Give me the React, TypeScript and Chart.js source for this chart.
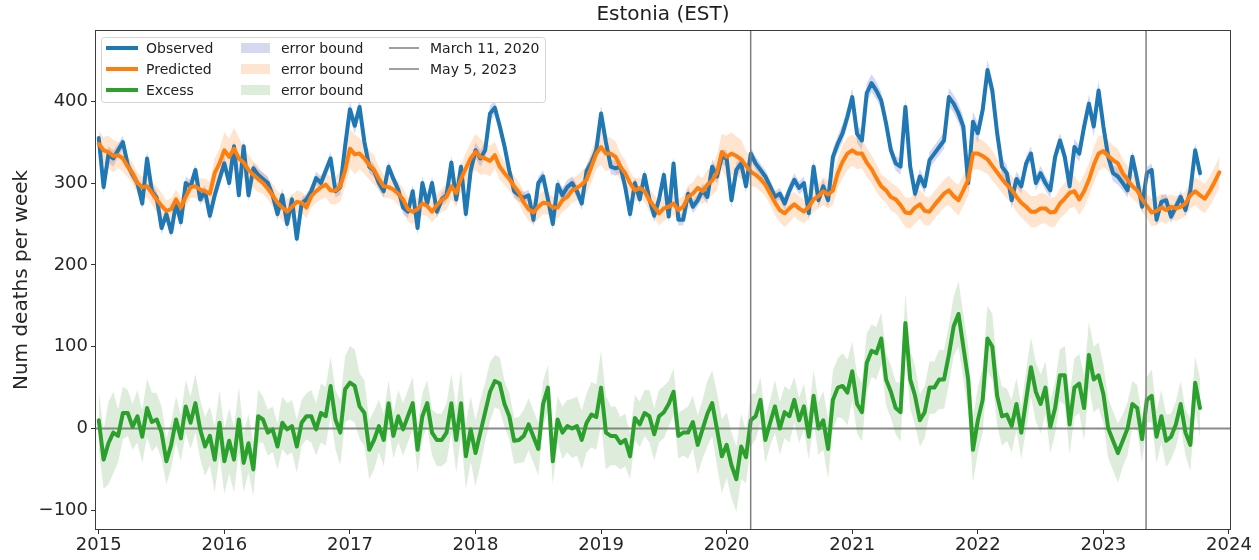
import React, { useEffect, useRef } from "react";
import { Chart, registerables } from "chart.js";

Chart.register(...registerables);

const FONT = '"DejaVu Sans", "Liberation Sans", sans-serif';

// Weekly series sampled every two weeks (26 samples per year), starting at the first week of 2015
const FIRST_WEEK = 2015.0;
const SAMPLE_STEP = 1 / 26;

const observed = [
  355, 295, 335, 330, 340, 350, 322, 310, 300, 275, 330, 290, 282, 245, 262, 240, 275, 252, 300, 295, 316, 280, 290, 260, 285, 305,
  324, 300, 345, 285, 345, 285, 318, 310, 305, 300, 285, 262, 285, 250, 280, 232, 275, 280, 290, 306, 300, 315, 330, 290, 295, 345,
  390, 370, 393, 350, 320, 315, 300, 290, 320, 305, 292, 270, 265, 290, 245, 300, 275, 300, 265, 280, 285, 325, 280, 320, 262, 315,
  340, 330, 340, 385, 392, 370, 345, 315, 290, 285, 282, 285, 255, 300, 308, 280, 250, 298, 285, 295, 300, 290, 275, 315, 325, 340,
  385, 350, 320, 318, 320, 295, 262, 300, 280, 310, 280, 260, 280, 310, 259, 324, 255, 255, 287, 271, 279, 291, 283, 320, 308, 332,
  330, 279, 316, 324, 296, 336, 324, 316, 308, 296, 283, 287, 275, 291, 304, 294, 300, 263, 320, 279, 296, 279, 332, 348, 361, 381,
  405, 360, 352, 410, 422, 413, 401, 373, 340, 324, 320, 393, 320, 287, 308, 296, 328, 336, 344, 352, 405, 397, 385, 369, 300, 375,
  361, 389, 438, 413, 361, 320, 312, 279, 305, 296, 324, 336, 300, 312, 300, 291, 332, 352, 332, 296, 344, 336, 369, 397, 369, 413,
  369, 332, 312, 308, 300, 291, 332, 304, 271, 312, 316, 255, 277, 279, 259, 271, 283, 267, 291, 340, 312,
];

const predicted = [
  348, 340, 338, 333, 334, 330, 320, 312, 300, 295, 296, 288, 280, 272, 266, 268, 280, 270, 283, 295, 296, 292, 290, 287, 312, 324,
  340, 332, 342, 330, 325, 316, 310, 305, 300, 293, 285, 276, 270, 265, 271, 277, 276, 270, 284, 290, 295, 298, 291, 291, 296, 315,
  342, 335, 336, 330, 322, 316, 305, 296, 295, 292, 287, 280, 268, 265, 268, 275, 272, 265, 273, 279, 283, 296, 288, 305, 318, 330,
  338, 332, 330, 327, 334, 320, 312, 305, 296, 288, 276, 268, 264, 271, 276, 275, 270, 270, 279, 283, 291, 294, 298, 304, 320, 336,
  344, 336, 336, 332, 320, 312, 300, 291, 294, 290, 279, 271, 263, 269, 271, 275, 267, 271, 283, 287, 294, 290, 298, 303, 313, 338,
  332, 336, 333, 329, 321, 314, 310, 305, 298, 287, 276, 267, 263, 269, 274, 269, 265, 271, 280, 284, 290, 286, 291, 312, 326, 336,
  340, 336, 336, 325, 317, 306, 296, 291, 283, 280, 273, 264, 263, 270, 274, 266, 265, 273, 280, 287, 291, 284, 279, 291, 304, 336,
  336, 333, 329, 321, 313, 305, 298, 292, 283, 276, 271, 265, 265, 269, 269, 264, 265, 275, 281, 288, 290, 280, 290, 304, 322, 336,
  339, 333, 328, 324, 312, 304, 296, 291, 280, 272, 264, 266, 270, 267, 271, 269, 271, 275, 285, 290, 285, 281, 290, 301, 313,
];

const excess = [
  10, -38, -18, -5, -9, 19, 19, 2, 15, -10, 25, 8, 11, -5, -40, -20, 11, -12, 27, 7, 31, -1, -22, -9, -38, 7,
  -40, -15, -38, 11, -42, -18, -50, 15, 11, -5, -1, -22, 7, -1, 3, -22, 7, 15, 15, -1, 19, 15, 52, 11, -5, 48,
  56, 52, 27, 19, -26, -14, 3, -14, 31, -9, 15, -1, 15, 31, -26, 15, 31, -5, -14, -14, -5, 31, -14, 31, -34, -1,
  -30, -5, 20, 45, 58, 55, 30, 15, -15, -14, -9, 5, -10, -25, 30, 50, -40, 11, -5, 3, 0, 3, -14, 7, 17, 14,
  50, -5, -9, -9, -18, -14, -34, 13, 5, 19, 15, -7, 15, 20, 30, 45, -9, -5, -5, 8, -20, -1, 18, 31, -1, -34,
  -20, -45, -62, -22, -35, 10, 15, 35, -14, 7, 27, 0, 20, 15, 35, 10, 27, -10, 40, 0, 10, -25, 35, 50, 52, 44,
  70, 30, 20, 80, 95, 92, 110, 60, 45, 25, 20, 129, 60, 40, 10, 20, 50, 50, 60, 60, 90, 125, 140, 100, 60, -26,
  10, 35, 110, 100, 40, 15, 17, 3, 30, -5, 35, 75, 45, 30, 50, 2, 25, 65, 65, 5, 50, 55, 25, 90, 60, 65,
  42, 0, -15, -30, -15, 0, 30, 25, -13, 35, 40, -10, 15, -15, -10, 5, 30, -5, -20, 56, 25,
];

// Half-widths of the error bounds, one value per four weeks
const observedErr = [
  8, 10, 8, 7, 8, 9, 8, 7, 8, 8, 7, 8, 9,
  9, 8, 8, 7, 8, 8, 9, 8, 7, 8, 8, 8, 9,
  10, 9, 8, 8, 7, 8, 8, 9, 8, 8, 8, 8, 9,
  10, 10, 8, 8, 8, 7, 8, 8, 8, 9, 8, 8, 9,
  10, 9, 8, 8, 7, 8, 8, 8, 7, 8, 8, 9, 9,
  10, 9, 8, 8, 8, 7, 8, 8, 8, 9, 9, 10, 11,
  11, 12, 11, 10, 9, 10, 9, 9, 10, 10, 11, 12, 12,
  12, 13, 11, 10, 9, 9, 9, 9, 9, 10, 10, 11, 12,
  11, 10, 9, 8, 8, 8, 8, 8, 8, 9, 9, 8, 8,
];

const predictedErr = [
  16, 20, 16, 13, 13, 14, 16, 13, 12, 13, 14, 15, 18,
  22, 26, 19, 16, 13, 14, 16, 14, 13, 14, 15, 17, 19,
  24, 19, 18, 14, 13, 14, 15, 14, 13, 14, 16, 17, 19,
  22, 19, 16, 14, 13, 14, 15, 14, 13, 14, 15, 17, 19,
  22, 19, 16, 14, 13, 14, 15, 14, 13, 14, 16, 18, 22,
  26, 24, 18, 15, 14, 15, 17, 15, 14, 15, 17, 18, 20,
  19, 18, 17, 15, 17, 18, 19, 18, 17, 17, 18, 19, 20,
  19, 18, 17, 17, 18, 19, 19, 18, 18, 19, 19, 20, 22,
  19, 18, 17, 15, 15, 17, 17, 15, 15, 17, 18, 18, 19,
];

const excessErr = [
  36, 50, 32, 28, 32, 36, 32, 28, 28, 32, 36, 36, 40,
  40, 40, 36, 32, 28, 28, 32, 32, 28, 32, 36, 36, 40,
  45, 40, 36, 32, 28, 32, 32, 28, 28, 32, 36, 40, 40,
  40, 36, 32, 28, 28, 32, 32, 28, 28, 32, 36, 36, 40,
  45, 36, 32, 28, 28, 32, 32, 28, 28, 32, 36, 40, 45,
  40, 40, 32, 28, 28, 32, 32, 28, 28, 32, 36, 36, 40,
  36, 36, 32, 32, 32, 36, 36, 32, 32, 36, 36, 40, 40,
  40, 40, 36, 32, 32, 36, 36, 32, 32, 36, 36, 40, 40,
  36, 36, 32, 28, 28, 32, 32, 28, 28, 32, 36, 36, 36,
];

const xTickYears = [2015, 2016, 2017, 2018, 2019, 2020, 2021, 2022, 2023, 2024];
const yTickValues = [-100, 0, 100, 200, 300, 400];
const eventLabels = ["March 11, 2020", "May 5, 2023"];
const eventYears = [2020 + 70 / 366, 2023 + 124 / 365];

const C_OBS = "#1f77b4";
const C_PRED = "#ff7f0e";
const C_EXC = "#2ca02c";
const B_OBS = "rgba(40,60,180,0.2)";
const B_PRED = "rgba(255,127,14,0.2)";
const B_EXC = "rgba(70,150,60,0.18)";
const C_EVENT = "#808080";

const xAt = (i: number) => FIRST_WEEK + i * SAMPLE_STEP;
const toPoints = (vals: number[]) => vals.map((v, i) => ({ x: xAt(i), y: v }));
const toBand = (vals: number[], err: number[], sign: number) =>
  vals.map((v, i) => ({ x: xAt(i), y: v + sign * err[i >> 1] }));

const bandSets = (label: string, vals: number[], err: number[], color: string, order: number) => [
  {
    label: label + " lower",
    data: toBand(vals, err, -1),
    borderWidth: 0,
    borderColor: "rgba(0,0,0,0)",
    pointRadius: 0,
    fill: false,
    order,
  },
  {
    label,
    data: toBand(vals, err, 1),
    borderWidth: 0,
    borderColor: "rgba(0,0,0,0)",
    backgroundColor: color,
    pointRadius: 0,
    fill: "-1",
    order,
  },
];

const lineSet = (label: string, vals: number[], color: string, order: number) => ({
  label,
  data: toPoints(vals),
  borderColor: color,
  backgroundColor: color,
  borderWidth: 4,
  pointRadius: 0,
  fill: false,
  tension: 0,
  borderJoinStyle: "round" as const,
  borderCapStyle: "round" as const,
  order,
});

const decorPlugin = {
  id: "decor",
  beforeDatasetsDraw(chart: any) {
    const { ctx, chartArea: a, scales } = chart;
    const y0 = scales.y.getPixelForValue(0);
    ctx.save();
    ctx.strokeStyle = "#8a8a8a";
    ctx.lineWidth = 2;
    ctx.beginPath();
    ctx.moveTo(a.left, y0);
    ctx.lineTo(a.right, y0);
    ctx.stroke();
    ctx.restore();
  },
  afterDatasetsDraw(chart: any) {
    const { ctx, chartArea: a, scales } = chart;
    ctx.save();
    ctx.strokeStyle = C_EVENT;
    ctx.lineWidth = 1.5;
    eventYears.forEach((yr) => {
      const px = scales.x.getPixelForValue(yr);
      ctx.beginPath();
      ctx.moveTo(px, a.top);
      ctx.lineTo(px, a.bottom);
      ctx.stroke();
    });
    ctx.strokeStyle = "#3c3c3c";
    ctx.lineWidth = 1;
    ctx.strokeRect(Math.round(a.left) + 0.5, Math.round(a.top) + 0.5, Math.round(a.width) - 1, Math.round(a.height) - 1);
    ctx.restore();
  },
  afterDraw(chart: any) {
    const { ctx, chartArea: a } = chart;
    ctx.save();
    const bx = a.left + 6;
    const by = a.top + 7;
    const bw = 444;
    const bh = 65;
    ctx.fillStyle = "rgba(255,255,255,0.85)";
    ctx.strokeStyle = "#d4d4d4";
    ctx.lineWidth = 1;
    ctx.beginPath();
    ctx.roundRect(bx + 0.5, by + 0.5, bw, bh, 3);
    ctx.fill();
    ctx.stroke();

    const rows = [by + 11, by + 32, by + 53];
    ctx.font = `14px ${FONT}`;
    ctx.textBaseline = "middle";
    ctx.textAlign = "left";
    const lineEntries = [
      { t: "Observed", c: C_OBS },
      { t: "Predicted", c: C_PRED },
      { t: "Excess", c: C_EXC },
    ];
    lineEntries.forEach((e, i) => {
      ctx.strokeStyle = e.c;
      ctx.lineWidth = 4;
      ctx.beginPath();
      ctx.moveTo(bx + 5, rows[i]);
      ctx.lineTo(bx + 37, rows[i]);
      ctx.stroke();
      ctx.fillStyle = "#222";
      ctx.fillText(e.t, bx + 45, rows[i] + 1);
    });
    [B_OBS, B_PRED, B_EXC].forEach((c, i) => {
      ctx.fillStyle = c;
      ctx.fillRect(bx + 140, rows[i] - 5, 29, 10);
      ctx.fillStyle = "#222";
      ctx.fillText("error bound", bx + 180, rows[i] + 1);
    });
    eventLabels.forEach((t, i) => {
      ctx.strokeStyle = C_EVENT;
      ctx.lineWidth = 1.5;
      ctx.beginPath();
      ctx.moveTo(bx + 288, rows[i]);
      ctx.lineTo(bx + 318, rows[i]);
      ctx.stroke();
      ctx.fillStyle = "#222";
      ctx.fillText(t, bx + 329, rows[i] + 1);
    });
    ctx.restore();
  },
};

export default function App() {
  const canvasRef = useRef<HTMLCanvasElement>(null);

  useEffect(() => {
    document.body.style.margin = "0";
    const canvas = canvasRef.current;
    if (!canvas) return;
    Chart.defaults.font.family = FONT;

    const tickGrid = {
      display: true,
      drawOnChartArea: false,
      drawTicks: true,
      tickLength: 4,
      tickColor: "#333",
      tickWidth: 1,
    };

    const chart = new Chart(canvas, {
      type: "line",
      data: {
        datasets: [
          ...bandSets("Observed error bound", observed, observedErr, B_OBS, 20),
          ...bandSets("Predicted error bound", predicted, predictedErr, B_PRED, 19),
          ...bandSets("Excess error bound", excess, excessErr, B_EXC, 18),
          lineSet("Observed", observed, C_OBS, 3),
          lineSet("Predicted", predicted, C_PRED, 2),
          lineSet("Excess", excess, C_EXC, 1),
        ] as any,
      },
      options: {
        responsive: false,
        maintainAspectRatio: false,
        animation: false,
        devicePixelRatio: 1,
        layout: { padding: { left: 0, right: 28, top: 0, bottom: 0 } },
        plugins: {
          legend: { display: false },
          tooltip: { enabled: false },
          title: {
            display: true,
            text: "Estonia (EST)",
            fullSize: false,
            color: "#1e1e1e",
            font: { family: FONT, size: 20, weight: "normal" },
            padding: { top: 3, bottom: 3 },
          },
        },
        scales: {
          x: {
            type: "linear",
            min: 2014.97,
            max: 2024.016,
            afterBuildTicks: (s: any) => {
              s.ticks = xTickYears.map((v) => ({ value: v }));
            },
            afterFit: (s: any) => {
              s.height = 30;
            },
            grid: tickGrid,
            border: { display: false },
            ticks: {
              font: { family: FONT, size: 18 },
              color: "#262626",
              padding: 1,
              maxRotation: 0,
              autoSkip: false,
              callback: (v: any) => String(v),
            },
          },
          y: {
            type: "linear",
            min: -124,
            max: 487,
            afterBuildTicks: (s: any) => {
              s.ticks = yTickValues.map((v) => ({ value: v }));
            },
            afterFit: (s: any) => {
              s.width = 95;
            },
            grid: tickGrid,
            border: { display: false },
            title: {
              display: true,
              text: "Num deaths per week",
              color: "#262626",
              font: { family: FONT, size: 20 },
              padding: { top: 10, bottom: 0 },
            },
            ticks: {
              font: { family: FONT, size: 18 },
              color: "#262626",
              padding: 3,
              callback: (v: any) => (Number(v) < 0 ? "\u2212" + Math.abs(Number(v)) : String(v)),
            },
          },
        },
      },
      plugins: [decorPlugin],
    } as any);

    return () => chart.destroy();
  }, []);

  return (
    <div style={{ width: 1259, height: 560 }}>
      <canvas ref={canvasRef} width={1259} height={560} style={{ display: "block" }} />
    </div>
  );
}
